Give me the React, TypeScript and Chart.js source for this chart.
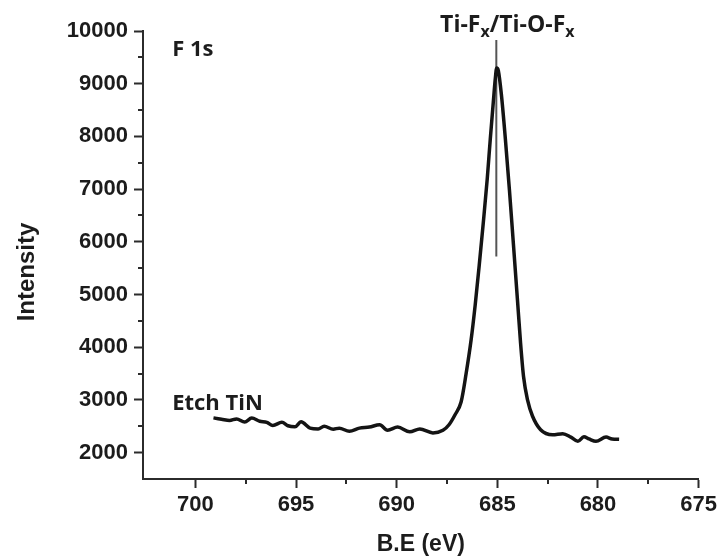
import { useEffect, useRef } from "react";
import { Chart, registerables } from "chart.js";

Chart.register(...registerables);

// F 1s core-level spectrum of etched TiN
const bindingEnergy = [
  699.1, 698.7, 698.3, 697.95, 697.55, 697.2, 696.8, 696.45, 696.15, 695.7,
  695.4, 695.05, 694.75, 694.3, 693.9, 693.6, 693.15, 692.85, 692.35, 691.85,
  691.35, 690.85, 690.45, 689.95, 689.35, 688.85, 688.2, 687.7, 687.4, 687.1,
  686.8, 686.55, 686.3, 686.1, 685.9, 685.7, 685.5, 685.35, 685.2, 685.1,
  685.03, 684.95, 684.8, 684.6, 684.4, 684.2, 684.0, 683.85, 683.7, 683.5,
  683.25, 682.85, 682.25, 681.75, 681.35, 681.0, 680.7, 680.45, 680.1, 679.6,
  679.3, 678.95,
];
const intensity = [
  2660, 2635, 2610, 2640, 2580, 2655, 2595, 2575, 2515, 2575,
  2510, 2490, 2585, 2465, 2450, 2500, 2445, 2465, 2405, 2465,
  2485, 2530, 2425, 2485, 2395, 2450, 2375, 2425, 2530, 2720,
  2960, 3500, 4145, 4800, 5550, 6350, 7200, 7950, 8650, 9100,
  9300, 9250, 8800, 7950, 6990, 5950, 4900, 4100, 3450, 3000,
  2690, 2435, 2340, 2360, 2295, 2215, 2300, 2260, 2215, 2295,
  2260, 2255,
];

// Peak assignment marker
const markerEnergy = [685.05, 685.05];
const markerIntensity = [5720, 9830];

const xTickValues = [700, 695, 690, 685, 680, 675];
const xMinorTickValues = [697.5, 692.5, 687.5, 682.5, 677.5];
const yTickValues = [2000, 3000, 4000, 5000, 6000, 7000, 8000, 9000, 10000];
const yMinorTickValues = [2500, 3500, 4500, 5500, 6500, 7500, 8500, 9500];

const xTitle = "B.E (eV)";
const yTitle = "Intensity";
const spectrumLabel = "F 1s";
const sampleLabel = "Etch TiN";

const AXIS_COLOR = "#2b2b2b";
const TEXT_COLOR = "#1c1c1c";
const TICK_FONT = { family: "'Liberation Sans', Arial, sans-serif", size: 22, weight: "bold" as const };
const LABEL_FONT = "bold 22px 'Open Sans', 'Noto Sans', sans-serif";

const decorations = {
  id: "decorations",
  afterDraw(chart: Chart) {
    const ctx = chart.ctx;
    const xs = chart.scales.x;
    const ys = chart.scales.y;
    const area = chart.chartArea;
    ctx.save();

    // minor ticks
    ctx.strokeStyle = AXIS_COLOR;
    ctx.lineWidth = 2;
    ctx.beginPath();
    for (const v of xMinorTickValues) {
      const px = Math.round(xs.getPixelForValue(v));
      ctx.moveTo(px, area.bottom);
      ctx.lineTo(px, area.bottom + 5);
    }
    for (const v of yMinorTickValues) {
      const py = Math.round(ys.getPixelForValue(v));
      ctx.moveTo(area.left, py);
      ctx.lineTo(area.left - 5, py);
    }
    ctx.stroke();

    // axis titles
    ctx.fillStyle = TEXT_COLOR;
    ctx.font = "bold 23px 'Liberation Sans', Arial, sans-serif";
    ctx.textAlign = "center";
    ctx.textBaseline = "middle";
    ctx.fillText(xTitle, (area.left + area.right) / 2, 545);
    ctx.save();
    ctx.translate(27, 272);
    ctx.rotate(-Math.PI / 2);
    ctx.font = "bold 24px 'Liberation Sans', Arial, sans-serif";
    ctx.fillText(yTitle, 0, 0);
    ctx.restore();

    // in-plot labels
    ctx.font = LABEL_FONT;
    ctx.textAlign = "left";
    ctx.textBaseline = "alphabetic";
    ctx.fillText(spectrumLabel, xs.getPixelForValue(701.15), ys.getPixelForValue(9520));
    ctx.fillText(sampleLabel, xs.getPixelForValue(701.15), ys.getPixelForValue(2800));

    // peak assignment: Ti-Fx/Ti-O-Fx
    const parts: [string, boolean][] = [
      ["Ti-F", false],
      ["x", true],
      ["/Ti-O-F", false],
      ["x", true],
    ];
    const mainFont = "bold 23px 'Open Sans', 'Noto Sans', sans-serif";
    const subFont = "bold 16px 'Open Sans', 'Noto Sans', sans-serif";
    let total = 0;
    for (const [t, sub] of parts) {
      ctx.font = sub ? subFont : mainFont;
      total += ctx.measureText(t).width;
    }
    let cx = xs.getPixelForValue(markerEnergy[0]) + 11 - total / 2;
    const baseY = 32;
    for (const [t, sub] of parts) {
      ctx.font = sub ? subFont : mainFont;
      ctx.fillText(t, cx, sub ? baseY + 5 : baseY);
      cx += ctx.measureText(t).width;
    }
    ctx.restore();
  },
};

export default function App() {
  const canvasRef = useRef<HTMLCanvasElement | null>(null);

  useEffect(() => {
    const canvas = canvasRef.current;
    if (!canvas) return;
    const chart = new Chart(canvas, {
      type: "line",
      data: {
        datasets: [
          {
            data: bindingEnergy.map((e, i) => ({ x: e, y: intensity[i] })),
            borderColor: "#141414",
            borderWidth: 3.5,
            pointRadius: 0,
            cubicInterpolationMode: "monotone",
            fill: false,
          },
          {
            data: markerEnergy.map((e, i) => ({ x: e, y: markerIntensity[i] })),
            borderColor: "#555555",
            borderWidth: 2,
            pointRadius: 0,
            fill: false,
          },
        ],
      },
      options: {
        responsive: false,
        animation: false,
        devicePixelRatio: 1,
        layout: { padding: { left: 0, right: 21, top: 31, bottom: 0 } },
        plugins: {
          legend: { display: false },
          tooltip: { enabled: false },
        },
        scales: {
          x: {
            type: "linear",
            reverse: true,
            min: 675,
            max: 702.6,
            afterBuildTicks: (s: any) => {
              s.ticks = xTickValues.map((v) => ({ value: v }));
            },
            afterFit: (s: any) => {
              s.height = 78;
            },
            border: { display: true, color: AXIS_COLOR, width: 2 },
            grid: {
              drawOnChartArea: false,
              drawTicks: true,
              tickLength: 9,
              tickColor: AXIS_COLOR,
              tickWidth: 2,
            },
            ticks: {
              font: TICK_FONT,
              color: TEXT_COLOR,
              padding: 4,
              maxRotation: 0,
              autoSkip: false,
              callback: (v: any) => String(v),
            },
          },
          y: {
            type: "linear",
            min: 1500,
            max: 10000,
            afterBuildTicks: (s: any) => {
              s.ticks = yTickValues.map((v) => ({ value: v }));
            },
            afterFit: (s: any) => {
              s.width = 143;
            },
            border: { display: true, color: AXIS_COLOR, width: 2 },
            grid: {
              drawOnChartArea: false,
              drawTicks: true,
              tickLength: 9,
              tickColor: AXIS_COLOR,
              tickWidth: 2,
            },
            ticks: {
              font: TICK_FONT,
              color: TEXT_COLOR,
              padding: 6,
              autoSkip: false,
              callback: (v: any) => String(v),
            },
          },
        },
      },
      plugins: [decorations],
    });
    return () => chart.destroy();
  }, []);

  return (
    <div style={{ position: "absolute", left: 0, top: 0, width: 721, height: 557, background: "#fff" }}>
      <canvas ref={canvasRef} width={721} height={557} />
    </div>
  );
}
